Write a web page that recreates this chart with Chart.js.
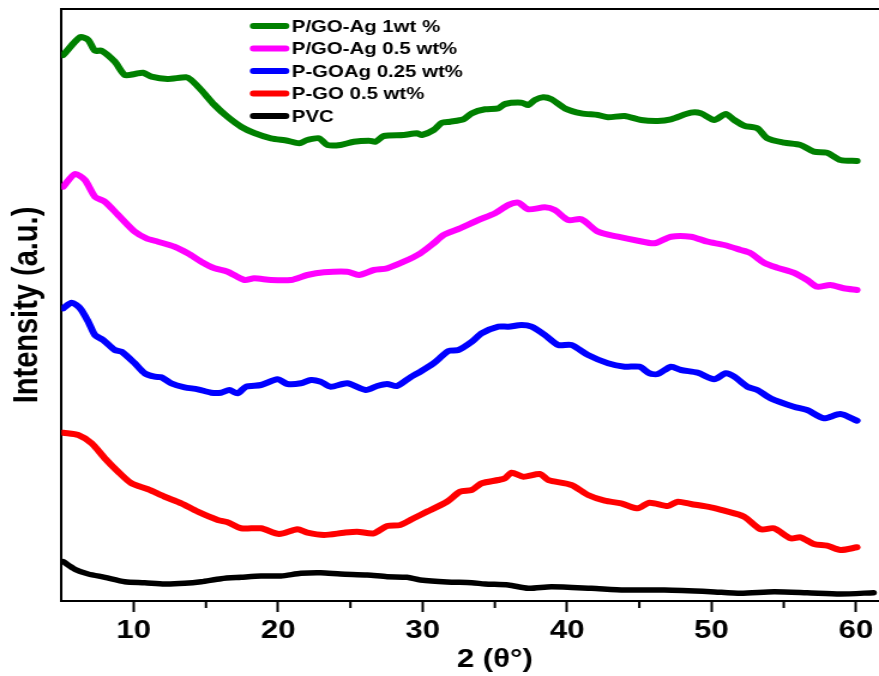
<!DOCTYPE html>
<html>
<head>
<meta charset="utf-8">
<script src="https://cdn.jsdelivr.net/npm/chart.js@4.4.1/dist/chart.umd.min.js"></script>
<style>
  html, body { margin: 0; padding: 0; background: #fff; overflow: hidden; }
  /* plot is laid out narrow and stretched sideways, the x range runs past the window edge */
  #wrap { position: absolute; left: 0; top: 0; width: 777px; height: 676px;
          transform: scaleX(1.1992); transform-origin: 0 0; }
</style>
</head>
<body>
<div id="wrap"><canvas id="xrd"></canvas></div>
<script>
const FONT = "'Liberation Sans', Arial, sans-serif";

const seriesNames = ['P/GO-Ag 1wt %', 'P/GO-Ag 0.5 wt%', 'P-GOAg 0.25 wt%', 'P-GO 0.5 wt%', 'PVC'];
const seriesColors = ['#008000', '#ff00ff', '#0000ff', '#ff0000', '#000000'];

const majorTicks = [10, 20, 30, 40, 50, 60];
const minorTicks = [15, 25, 35, 45, 55];

// 2theta (deg) / intensity (a.u., curves stacked with offsets)
const pgoag1Angle = [5.12,6.28,6.85,7.31,7.77,8.69,9.38,10.07,10.64,11.22,12.34,13.63,13.98,14.67,15.59,16.48,17.43,18.34,19.50,20.64,21.45,22.02,22.83,23.40,24.32,25.24,26.28,26.74,27.31,28.69,29.61,29.95,30.76,31.33,31.91,32.83,33.40,34.32,35.24,35.70,36.85,37.31,37.77,38.34,38.92,39.84,40.99,42.14,42.83,43.98,45.12,46.28,47.19,48.57,49.26,50.19,50.99,51.57,52.26,53.17,53.86,55.01,56.16,57.08,58.00,58.92,60.07];
const pgoag1Int = [546,563.7,561,550.3,550.3,539.3,526,527,528.3,524.3,522,523.7,521,511,496,484.3,474.3,468,462.7,460.3,457.7,461,462.7,456,456,459.3,460.3,459.3,465,466,467.7,466,471,478.3,479.3,481.7,487.7,491.7,492.7,497,498.3,496,501,503.7,501.7,492.7,487.7,486,483.7,485,481,480,481.7,488.3,487.7,481,487,481,475.3,472.7,462.7,458.3,456,449.3,448.3,441,440];

const pgoag05Angle = [5.12,5.93,6.62,7.31,8.00,8.92,10.07,10.88,11.68,12.83,13.74,14.67,15.59,16.50,17.66,18.34,19.50,20.88,22.02,23.17,24.78,25.59,26.62,27.54,28.69,29.84,30.76,31.45,32.48,33.86,35.01,35.93,36.62,37.31,38.46,39.15,40.07,40.99,42.14,43.52,44.90,46.05,47.19,48.57,49.72,50.88,52.02,52.71,53.63,54.55,55.70,56.62,57.31,58.23,59.15,60.07];
const pgoag05Int = [414.3,427,421,404.3,399.3,386,369.3,362.7,359.3,354.3,347.7,339.3,332.7,329.3,321,322.7,321,321,326,328.7,329.3,326,331,332.7,339.3,347.7,357.7,366,372,381,387.7,396,398.3,391.7,393.7,391,381,381.7,369.3,364.3,360.3,357.7,364.3,364.3,359.3,356,351,347.7,338.3,333.3,328.3,321,314.3,316,312.7,311];

const pgoag025Angle = [5.12,5.70,6.28,6.85,7.31,7.88,8.69,9.15,10.07,10.76,11.45,11.91,12.60,13.52,14.43,15.36,16.05,16.62,17.19,17.77,18.81,19.95,20.64,21.57,22.26,22.94,23.63,24.78,26.05,26.85,27.54,28.23,29.15,29.84,30.76,31.79,32.48,33.40,34.09,35.24,35.93,36.85,37.54,38.46,39.38,40.30,41.45,42.83,43.98,45.01,45.70,46.28,47.19,47.88,49.03,50.19,50.99,51.57,52.48,53.17,54.09,55.70,56.62,57.77,58.92,60.07];
const pgoag025Int = [292.7,298.3,292.7,279.3,266,261,251,249.3,237.7,227.7,224.3,223.7,217.7,213.7,211.7,208.3,208.3,211,207.7,214.3,216,221.7,217,217.7,221,219.3,214.3,217.7,211,215,217,215,223.7,229.3,237.7,250,251,259.3,267.7,274.3,274.3,276,274.3,266,256,256,246,237.7,234.3,234.3,227.7,227,234.3,231,228.3,221.7,227.7,224.3,214.3,211,202.7,194.3,191,182.7,187,180.3];

const pgoAngle = [5.12,6.16,7.08,8.00,8.92,9.84,10.99,12.14,13.29,14.43,15.81,16.50,17.43,18.81,20.07,21.33,22.02,23.17,24.55,25.47,26.62,27.54,28.46,29.38,30.30,31.68,32.60,33.40,34.09,35.24,35.70,36.16,36.97,38.12,38.69,40.30,41.45,42.60,43.74,44.90,45.70,46.97,47.66,48.57,49.95,50.88,52.26,53.40,54.32,55.47,56.16,57.08,58.00,58.92,60.07];
const pgoInt = [168.3,166,157.7,142.7,129.3,117.7,111.7,104.3,97.7,89.3,81,78.7,72.7,72.7,67,71.7,68.3,66,68.3,69.3,67.7,75,76,82.7,89.3,99.3,109.3,111,117.7,121,122.7,128.3,124.3,127,121,116,106,100.3,97.7,92.7,98.3,95,99.3,97,93.7,90.3,84.3,71.7,72.7,62.7,63.7,57,55.3,51,53.7];

const pvcAngle = [5.12,5.93,6.85,8.00,9.38,10.76,12.14,13.52,14.67,16.05,17.43,18.81,20.19,21.57,22.94,24.32,26.16,27.54,28.92,29.84,31.68,33.40,34.32,35.93,37.31,38.92,41.68,43.98,46.74,49.93,52.02,54.32,56.62,58.92,61.22];
const pvcInt = [39.3,31.7,27,23.7,19.3,18.3,17,17.7,19.3,22.3,23.7,25,25,27.7,28.3,27,26,24.3,23.7,21,19,18.3,17,16,12.7,14.3,12.7,11,11,9.3,7.7,9.3,8.3,7,8.3];

const angles = [pgoag1Angle, pgoag05Angle, pgoag025Angle, pgoAngle, pvcAngle];
const intensities = [pgoag1Int, pgoag05Int, pgoag025Int, pgoInt, pvcInt];

const datasets = seriesNames.map((name, i) => ({
  label: name,
  data: angles[i].map((a, j) => ({ x: a, y: intensities[i][j] })),
  borderColor: seriesColors[i],
  backgroundColor: seriesColors[i],
  borderWidth: i === 4 ? 5.5 : 6,
  pointRadius: 0,
  tension: 0.25,
  borderCapStyle: 'round',
  borderJoinStyle: 'round',
}));

// legend drawn inside the plot, line swatch + bold label
const insideLegend = {
  id: 'insideLegend',
  afterDatasetsDraw(chart) {
    const { ctx, chartArea: a } = chart;
    ctx.save();
    ctx.font = 'bold 17px ' + FONT;
    ctx.textBaseline = 'middle';
    ctx.lineCap = 'round';
    chart.data.datasets.forEach((ds, i) => {
      const y = a.top + 17 + i * 22.5;
      ctx.strokeStyle = ds.borderColor;
      ctx.lineWidth = 6;
      ctx.beginPath();
      ctx.moveTo(a.left + 160, y);
      ctx.lineTo(a.left + 187, y);
      ctx.stroke();
      ctx.fillStyle = '#000';
      ctx.fillText(ds.label, a.left + 192, y + 1);
    });
    ctx.restore();
  }
};

// top frame line and the short minor ticks on the 2theta axis
const frame = {
  id: 'frame',
  afterDraw(chart) {
    const { ctx, chartArea: a, scales: { x } } = chart;
    ctx.save();
    ctx.strokeStyle = '#000';
    ctx.lineWidth = 2;
    ctx.beginPath();
    ctx.moveTo(a.left - 1, a.top);
    ctx.lineTo(a.right, a.top);
    ctx.stroke();
    ctx.beginPath();
    minorTicks.forEach(v => {
      const px = x.getPixelForValue(v);
      ctx.moveTo(px, a.bottom);
      ctx.lineTo(px, a.bottom + 7);
    });
    ctx.stroke();
    ctx.restore();
  }
};

new Chart(document.getElementById('xrd'), {
  type: 'line',
  data: { datasets },
  plugins: [insideLegend, frame],
  options: {
    responsive: true,
    maintainAspectRatio: false,
    animation: false,
    layout: { padding: { top: 9, left: 0, right: 0, bottom: 0 } },
    plugins: { legend: { display: false }, tooltip: { enabled: false } },
    scales: {
      x: {
        type: 'linear',
        min: 5,
        max: 65,
        afterBuildTicks: axis => { axis.ticks = majorTicks.map(v => ({ value: v })); },
        afterFit: axis => { axis.height = 75; },
        grid: { drawOnChartArea: false, drawTicks: true, tickLength: 11, tickWidth: 2, tickColor: '#000' },
        border: { color: '#000', width: 2 },
        ticks: { color: '#000', padding: 3, maxRotation: 0, font: { family: FONT, size: 26, weight: 'bold' } },
        title: {
          display: true, text: '2 (θ°)', color: '#000', padding: { top: 0, bottom: 1 },
          font: { family: FONT, size: 26, weight: 'bold' }
        }
      },
      y: {
        min: 0,
        max: 592,
        afterFit: axis => { axis.width = 51.3; },
        grid: { drawOnChartArea: false, drawTicks: false },
        border: { color: '#000', width: 2 },
        ticks: { display: false },
        title: {
          display: true, text: 'Intensity (a.u.)', color: '#000', padding: 6,
          font: { family: FONT, size: 29, weight: 'bold' }
        }
      }
    }
  }
});
</script>
</body>
</html>
